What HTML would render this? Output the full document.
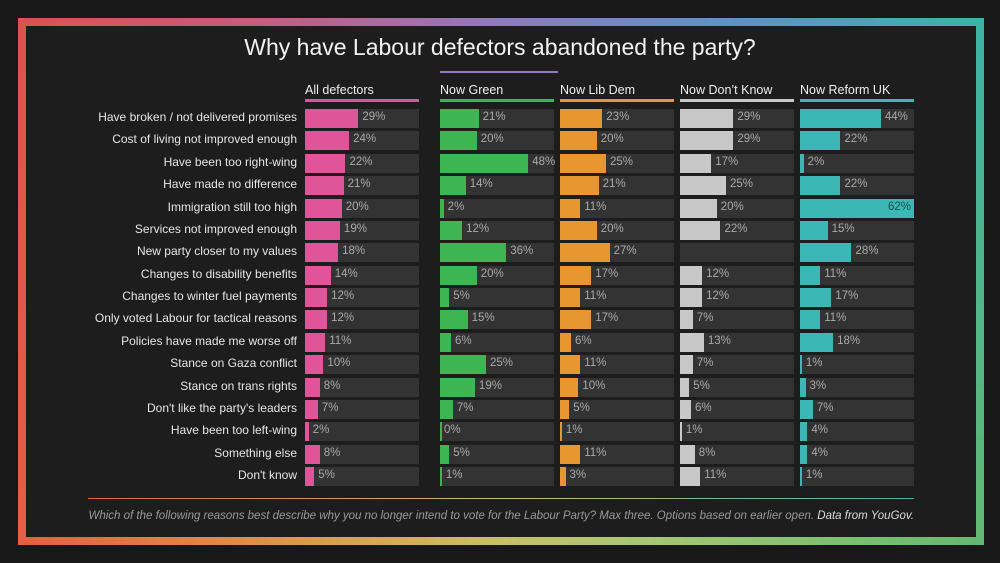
<!DOCTYPE html>
<html><head><meta charset="utf-8">
<style>
body{margin:0;background:#181818;width:1000px;height:563px;overflow:hidden;font-family:"Liberation Sans",sans-serif;}
#frame{position:absolute;left:18px;top:18px;width:966px;height:527px;}
.fb{position:absolute;}
#inner{position:absolute;left:26px;top:26px;width:950px;height:511px;background:#1d1d1d;}
#title{position:absolute;left:0;width:1000px;top:34px;text-align:center;color:#f2f2f2;font-size:23px;}
.txt{position:absolute;white-space:nowrap;}
</style></head><body>
<div id="frame">
<div class="fb" style="left:0;top:0;width:966px;height:9px;background:linear-gradient(90deg,#d9534f,#c0608a 30%,#8e7ac0 50%,#5b93c9 75%,#3cb3a5)"></div>
<div class="fb" style="left:0;bottom:0;width:966px;height:9px;background:linear-gradient(90deg,#e0623e,#dc9a4e 30%,#c9c06a 50%,#a6c870 65%,#62b872)"></div>
<div class="fb" style="left:0;top:0;width:9px;height:527px;background:linear-gradient(180deg,#d9534f,#e0623e)"></div>
<div class="fb" style="right:0;top:0;width:9px;height:527px;background:linear-gradient(180deg,#3cb3a5,#62b872)"></div>
</div>
<div id="inner"></div>
<div id="title">Why have Labour defectors abandoned the party?</div>
<div style="position:absolute;left:440px;top:71px;width:118px;height:2px;background:#8e7ac0"></div>
<div id="chart"></div>
<div style="position:absolute;left:88px;top:498px;width:826px;height:1px;background:linear-gradient(90deg,#e0623e,#c9c06a 50%,#3cb3a5)"></div>
<div class="txt" style="right:86px;top:510px;color:#9a9a9a;font-style:italic;font-size:11.5px;font-family:'Liberation Sans Narrow','Liberation Sans',sans-serif;">Which of the following reasons best describe why you no longer intend to vote for the Labour Party? Max three. Options based on earlier open. <span style="color:#dcdcdc">Data from YouGov.</span></div>
<script>
const categories=["Have broken / not delivered promises","Cost of living not improved enough","Have been too right-wing","Have made no difference","Immigration still too high","Services not improved enough","New party closer to my values","Changes to disability benefits","Changes to winter fuel payments","Only voted Labour for tactical reasons","Policies have made me worse off","Stance on Gaza conflict","Stance on trans rights","Don't like the party's leaders","Have been too left-wing","Something else","Don't know"];
const seriesNames=["All defectors","Now Green","Now Lib Dem","Now Don\u2019t Know","Now Reform UK"];
const allDefectors=[29,24,22,21,20,19,18,14,12,12,11,10,8,7,2,8,5];
const nowGreen=[21,20,48,14,2,12,36,20,5,15,6,25,19,7,0,5,1];
const nowLibDem=[23,20,25,21,11,20,27,17,11,17,6,11,10,5,1,11,3];
const nowDontKnow=[29,29,17,25,20,22,null,12,12,7,13,7,5,6,1,8,11];
const nowReform=[44,22,2,22,62,15,28,11,17,11,18,1,3,7,4,4,1];
const series=[allDefectors,nowGreen,nowLibDem,nowDontKnow,nowReform];
const colors=["#e0559a","#3db552","#e8962f","#c8c8c8","#3bb8b5"];
const colX=[305,440,560,680,800],trackW=114,maxV=62;
const x=v=>v/maxV*trackW;
const y=i=>118+i*22.375;
const chart=document.getElementById('chart');
function mk(css,name,txt){const d=document.createElement('div');d.style.cssText='position:absolute;'+css;


if(txt!=null)d.textContent=txt;chart.appendChild(d);return d;}
categories.forEach((c,i)=>{mk(`right:${1000-297}px;top:${y(i)-8}px;color:#e6e6e6;font-size:12px;white-space:nowrap;`,'category-label',c);});
series.forEach((s,k)=>{
 const cx=colX[k];
 mk(`left:${cx}px;top:83px;color:#eeeeee;font-size:12.5px;white-space:nowrap;`,'column-header',seriesNames[k]);
 mk(`left:${cx}px;top:99px;width:${trackW}px;height:3px;background:${colors[k]}`,'column-underline');
 s.forEach((v,i)=>{
  mk(`left:${cx}px;top:${y(i)-9}px;width:${trackW}px;height:19px;background:#333333`,'bar-track');
  if(v==null)return;
  const w=x(v);
  mk(`left:${cx}px;top:${y(i)-9}px;width:${Math.max(w,1.5)}px;height:19px;background:${colors[k]}`,'bar');
  const inside=w>trackW-25;
  if(inside) mk(`left:${cx+w-30}px;width:27px;text-align:right;top:${y(i)-7}px;color:#1d4d4c;font-size:11.5px;`,'bar-value',v+'%');
  else mk(`left:${cx+w+4}px;top:${y(i)-7}px;color:#aaaaaa;font-size:11.5px;`,'bar-value',v+'%');
 });
});
</script>
</body></html>
